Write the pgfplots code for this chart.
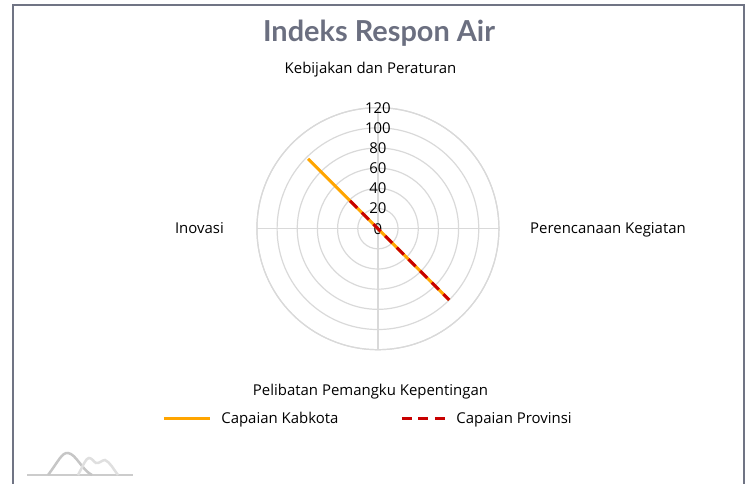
\documentclass[border=0pt]{standalone}
\usepackage{pgfplots}
\pgfplotsset{compat=1.18}
\usepgfplotslibrary{polar}
\usepackage{fontspec}
\setmainfont{Open Sans}
\newfontfamily\titlefont{Lato}
\definecolor{framegray}{RGB}{112,116,132}
\definecolor{titlegray}{RGB}{107,111,128}
\definecolor{gridgray}{RGB}{217,217,217}
\definecolor{kabkota}{RGB}{255,165,0}
\definecolor{provinsi}{RGB}{200,0,0}
\pgfplotsset{
  legimgA/.style={legend image code/.code={\draw[##1] (0bp,0bp) -- (46bp,0bp);}},
  legimgB/.style={legend image code/.code={\draw[##1] (0bp,0bp) -- (43bp,0bp);}},
}
\begin{document}
\begin{tikzpicture}[x=1bp,y=1bp]
\useasboundingbox (0,0) rectangle (750,484);
% frame
\draw[line width=2bp, framegray] (13,0) -- (13,478.5) -- (744,478.5) -- (744,0);
% logo
\draw[line width=2.5bp, gray!40] (27,9) -- (133,9);
\draw[line width=2.5bp, gray!45] (48,9) .. controls (58,22) and (62,32) .. (68,31) .. controls (76,30) and (82,14) .. (92,9);
\draw[line width=2.5bp, gray!25] (78,9) .. controls (84,20) and (86,26) .. (89,26) .. controls (92,26) and (94,22) .. (96,21) .. controls (99,20) and (102,24) .. (105,24) .. controls (110,22) and (114,14) .. (118,9);
% title
\node[font=\titlefont\bfseries\fontsize{29}{34}\selectfont, text=titlegray, anchor=base] at (379,442.3) {Indeks Respon Air};
% category labels
\begin{scope}[every node/.style={font=\fontsize{15}{18}\selectfont, inner sep=0pt}]
\node[anchor=base] at (370.5,410.7) {Kebijakan dan Peraturan};
\node[anchor=base] at (370.5,88) {Pelibatan Pemangku Kepentingan};
\node[anchor=base east] at (224,250.7) {Inovasi};
\node[anchor=base west] at (530,250.5) {Perencanaan Kegiatan};
\end{scope}
\begin{polaraxis}[
  at={(374.8,253.2)}, anchor=center,
  scale only axis, width=242bp, height=242bp,
  xmin=90, xmax=450,
  ymin=0, ymax=120,
  ytick={0,20,40,60,80,100,120},
  xtick={90,180,270,360},
  xticklabels={},
  yticklabel style={font=\fontsize{15}{18}\selectfont, anchor=center, inner sep=0pt},
  /pgf/number format/assume math mode=true,
  grid=major,
  major grid style={gridgray, line width=1.2bp},
  axis line style={gridgray, line width=1.2bp},
  major tick length=0pt,
  legend columns=2,
  legend style={at={(0.455,-0.284)}, anchor=center, draw=none, fill=none, inner sep=0pt,
    font=\fontsize{15}{18}\selectfont,
    nodes={inner sep=0pt},
    /tikz/every odd column/.append style={column sep=10bp},
    /tikz/every even column/.append style={column sep=62bp}},
]
\addplot[kabkota, line width=3bp, no marks, legimgA] coordinates {(135,98) (315,100)};
\addlegendentry{Capaian Kabkota}
\addplot[provinsi, line width=3bp, no marks, dash pattern=on 10bp off 6.5bp, legimgB] coordinates {(135,39) (315,100)};
\addlegendentry{Capaian Provinsi}
\end{polaraxis}
\end{tikzpicture}
\end{document}
